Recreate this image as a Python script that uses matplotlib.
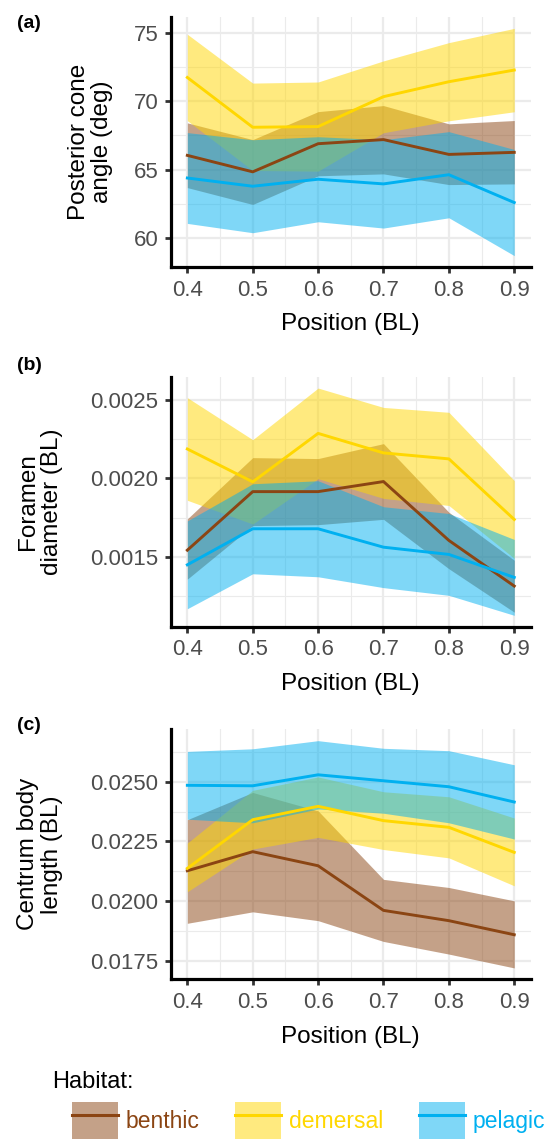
import matplotlib.pyplot as plt
from matplotlib.lines import Line2D
from matplotlib.patches import Patch
from matplotlib.ticker import MultipleLocator, FormatStrFormatter

plt.rcParams['font.family'] = ['Liberation Sans', 'DejaVu Sans']

position = [0.4, 0.5, 0.6, 0.7, 0.8, 0.9]
habitats = ['benthic', 'demersal', 'pelagic']
colors = ['#8B4513', '#FFD700', '#00B0F0']

# (a) posterior cone angle (deg)
cone_benthic = [66.05, 64.85, 66.9, 67.2, 66.12, 66.27]
cone_benthic_lo = [63.7, 62.47, 64.56, 64.7, 63.92, 63.97]
cone_benthic_hi = [68.42, 67.2, 69.24, 69.68, 68.35, 68.59]
cone_demersal = [71.73, 68.1, 68.15, 70.33, 71.42, 72.27]
cone_demersal_lo = [68.58, 64.95, 64.9, 67.7, 68.57, 69.23]
cone_demersal_hi = [74.88, 71.32, 71.4, 72.94, 74.27, 75.31]
cone_pelagic = [64.4, 63.8, 64.31, 63.97, 64.64, 62.61]
cone_pelagic_lo = [61.09, 60.41, 61.21, 60.75, 61.5, 58.74]
cone_pelagic_hi = [67.71, 67.19, 67.41, 67.19, 67.78, 66.48]

# (b) foramen diameter (BL)
foramen_benthic = [0.001544, 0.001916, 0.001916, 0.00198, 0.001606, 0.001316]
foramen_benthic_lo = [0.00136, 0.0017, 0.001706, 0.00174, 0.001426, 0.00115]
foramen_benthic_hi = [0.001743, 0.002132, 0.002126, 0.002221, 0.001785, 0.00148]
foramen_demersal = [0.002187, 0.001978, 0.002286, 0.002162, 0.002124, 0.001739]
foramen_demersal_lo = [0.001861, 0.00171, 0.001998, 0.001873, 0.001828, 0.001492]
foramen_demersal_hi = [0.002513, 0.002246, 0.002574, 0.002451, 0.00242, 0.001986]
foramen_pelagic = [0.001451, 0.00168, 0.00168, 0.001563, 0.001517, 0.001371]
foramen_pelagic_lo = [0.001172, 0.001394, 0.001375, 0.001306, 0.001257, 0.00113]
foramen_pelagic_hi = [0.00173, 0.001966, 0.001985, 0.00182, 0.001777, 0.001612]

# (c) centrum body length (BL)
centrum_benthic = [0.02127, 0.02207, 0.02148, 0.01961, 0.01918, 0.01859]
centrum_benthic_lo = [0.01907, 0.01955, 0.01918, 0.01831, 0.01778, 0.0172]
centrum_benthic_hi = [0.02341, 0.02455, 0.02378, 0.02091, 0.02057, 0.02001]
centrum_demersal = [0.02137, 0.02341, 0.02397, 0.02337, 0.02309, 0.02204]
centrum_demersal_lo = [0.02039, 0.02218, 0.02267, 0.02216, 0.02181, 0.02064]
centrum_demersal_hi = [0.02243, 0.02464, 0.0252, 0.02458, 0.02437, 0.02348]
centrum_pelagic = [0.02485, 0.02483, 0.02529, 0.02504, 0.02479, 0.02415]
centrum_pelagic_lo = [0.02343, 0.02328, 0.02386, 0.02368, 0.02328, 0.0226]
centrum_pelagic_hi = [0.02627, 0.02638, 0.02672, 0.0264, 0.0263, 0.02571]

panels = [
    ('(a)', 'Posterior cone\nangle (deg)',
     [cone_benthic, cone_demersal, cone_pelagic],
     [cone_benthic_lo, cone_demersal_lo, cone_pelagic_lo],
     [cone_benthic_hi, cone_demersal_hi, cone_pelagic_hi], 5, '%g'),
    ('(b)', 'Foramen\ndiameter (BL)',
     [foramen_benthic, foramen_demersal, foramen_pelagic],
     [foramen_benthic_lo, foramen_demersal_lo, foramen_pelagic_lo],
     [foramen_benthic_hi, foramen_demersal_hi, foramen_pelagic_hi], 0.0005, '%.4f'),
    ('(c)', 'Centrum body\nlength (BL)',
     [centrum_benthic, centrum_demersal, centrum_pelagic],
     [centrum_benthic_lo, centrum_demersal_lo, centrum_pelagic_lo],
     [centrum_benthic_hi, centrum_demersal_hi, centrum_pelagic_hi], 0.0025, '%.4f'),
]

W, H = 549, 1143
fig = plt.figure(figsize=(W / 100, H / 100), dpi=100)

tops = [17, 376.7, 729.3]
tag_y = [23.5, 365, 725]
# right edge of the two-line y label, in axes fraction
ylabel_x = [-0.16, -0.30, -0.30]

for i, (tag, ylabel, means, los, his, step, fmt) in enumerate(panels):
    top = tops[i]
    ax = fig.add_axes([171 / W, 1 - (top + 250) / H, 359.6 / W, 250 / H])
    for c, lo, hi in zip(colors, los, his):
        ax.fill_between(position, lo, hi, color=c, alpha=0.5, lw=0, zorder=2)
    for c, m in zip(colors, means):
        ax.plot(position, m, color=c, lw=2.1, zorder=3)

    ax.set_xticks(position)
    ax.xaxis.set_major_formatter(FormatStrFormatter('%.1f'))
    ax.xaxis.set_minor_locator(MultipleLocator(0.05))
    ax.yaxis.set_major_locator(MultipleLocator(step))
    ax.yaxis.set_minor_locator(MultipleLocator(step / 2))
    ax.yaxis.set_major_formatter(FormatStrFormatter(fmt))

    ax.set_axisbelow(True)
    ax.grid(which='major', color='#ebebeb', lw=1.6)
    ax.grid(which='minor', color='#ebebeb', lw=0.8)
    ax.tick_params(which='minor', length=0)
    ax.tick_params(which='major', length=4.5, width=2, color='#333333',
                   labelsize=16, labelcolor='#4d4d4d', pad=4.5)
    for s in ['top', 'right']:
        ax.spines[s].set_visible(False)
    for s in ['left', 'bottom']:
        ax.spines[s].set_linewidth(2.3)
        ax.spines[s].set_color('black')

    ax.set_xlabel('Position (BL)', fontsize=17.5)
    ax.xaxis.set_label_coords(0.5, -0.185)
    ax.set_ylabel(ylabel, fontsize=17.5, linespacing=1.1)
    ax.yaxis.set_label_coords(ylabel_x[i], 0.5)

    fig.text(17 / W, 1 - tag_y[i] / H, tag, fontsize=14, fontweight='bold',
             va='center', ha='left')

fig.text(52 / W, 1 - 1082 / H, 'Habitat:', fontsize=17, va='center', ha='left')
handles = [(Patch(facecolor=c, alpha=0.5, lw=0), Line2D([], [], color=c, lw=2.2))
           for c in colors]
leg = fig.legend(handles, habitats, loc='upper left',
                 bbox_to_anchor=(72 / W, 1 - 1102 / H), ncol=3, frameon=False,
                 fontsize=16.5, handlelength=2, handleheight=2.1,
                 handletextpad=0.35, columnspacing=1.55, borderpad=0,
                 borderaxespad=0)
for t, c in zip(leg.get_texts(), colors):
    t.set_color(c)

fig.savefig('out.png', dpi=100)
